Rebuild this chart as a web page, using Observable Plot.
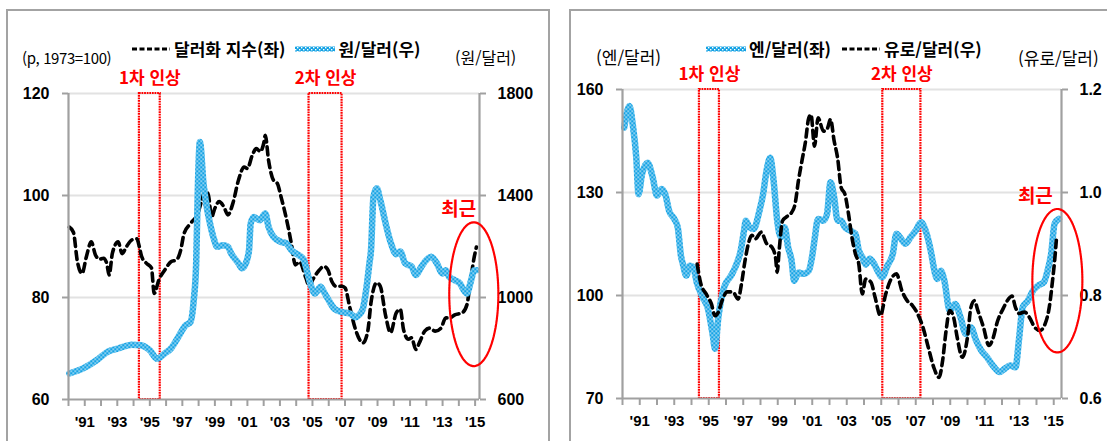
<!DOCTYPE html>
<html lang="ko"><head><meta charset="utf-8">
<script src="https://cdn.jsdelivr.net/npm/d3@7"></script>
<script src="https://cdn.jsdelivr.net/npm/@observablehq/plot@0.6"></script>
<style>
html,body{margin:0;padding:0;background:#fff}
#page{position:relative;width:1107px;height:441px;overflow:hidden;font-family:"Noto Sans CJK KR","Noto Sans",sans-serif;color:#000}
.panel{position:absolute;border:2px solid #a3a3a3;box-sizing:border-box}
.chart{position:absolute;top:0}
.t{position:absolute;white-space:nowrap;line-height:1}
.legend{position:absolute;display:flex;align-items:center;white-space:nowrap;font-weight:700;font-size:17px;line-height:1}
.legend svg{margin-right:3px}
.legend span{margin-right:10px}
</style></head><body>
<div id="page">
  <div class="panel" style="left:6px;top:9px;width:544px;height:480px"></div>
  <div class="panel" style="left:569px;top:9px;width:600px;height:480px"></div>
  <div class="t" style="left:22px;top:50px;font-size:15px;letter-spacing:-0.4px">(p, 1973=100)</div>
  <div class="t" style="left:455px;top:49px;font-size:16px">(원/달러)</div>
  <div class="legend" style="left:131px;top:40px">
    <svg width="40" height="8"><line x1="1" y1="4" x2="39" y2="4" stroke="#000" stroke-width="3" stroke-dasharray="5,2.5"/></svg><span>달러화 지수(좌)</span>
    <svg width="40" height="8"><defs><pattern id="lg1" width="4" height="4" patternUnits="userSpaceOnUse"><rect width="4" height="4" fill="#14a2e4"/><rect width="1.4" height="1.4" fill="#fff"/><rect x="2" y="2" width="1.4" height="1.4" fill="#fff"/></pattern></defs><rect x="0" y="1.5" width="40" height="5" fill="url(#lg1)"/></svg><span>원/달러(우)</span>
  </div>
  <div class="t" style="left:596px;top:48px;font-size:17px">(엔/달러)</div>
  <div class="t" style="left:1018px;top:49px;font-size:17px">(유로/달러)</div>
  <div class="legend" style="left:706px;top:40px">
    <svg width="40" height="8"><defs><pattern id="lg2" width="4" height="4" patternUnits="userSpaceOnUse"><rect width="4" height="4" fill="#14a2e4"/><rect width="1.4" height="1.4" fill="#fff"/><rect x="2" y="2" width="1.4" height="1.4" fill="#fff"/></pattern></defs><rect x="0" y="1.5" width="40" height="5" fill="url(#lg2)"/></svg><span>엔/달러(좌)</span>
    <svg width="40" height="8"><line x1="1" y1="4" x2="39" y2="4" stroke="#000" stroke-width="3" stroke-dasharray="5,2.5"/></svg><span>유로/달러(우)</span>
  </div>
  <div id="left" class="chart" style="left:0px"></div>
  <div id="right" class="chart" style="left:569px"></div>
</div>
<script>
// ---------- data ----------
const dxyYears = [1990.05,1990.3,1990.55,1990.83,1991.1,1991.4,1991.65,1991.9,1992.15,1992.35,1992.5,1992.7,1993.05,1993.3,1993.55,1993.9,1994.2,1994.36,1994.5,1994.8,1995.1,1995.27,1995.55,1995.9,1996.3,1996.65,1996.9,1997.1,1997.5,1997.95,1998.2,1998.4,1998.6,1998.8,1999.0,1999.26,1999.55,1999.8,2000.1,2000.45,2000.8,2001.0,2001.3,2001.55,2001.8,2002.0,2002.1,2002.3,2002.6,2002.85,2003.07,2003.3,2003.5,2003.7,2003.95,2004.2,2004.6,2004.8,2005.0,2005.35,2005.7,2005.95,2006.2,2006.45,2006.8,2007.0,2007.3,2007.65,2008.1,2008.4,2008.6,2008.95,2009.17,2009.5,2009.8,2010.15,2010.4,2010.6,2010.9,2011.1,2011.35,2011.57,2011.9,2012.2,2012.55,2012.9,2013.2,2013.45,2013.75,2014.2,2014.5,2014.7,2014.95,2015.08];
const dxyValues = [93.8,92.8,87,84.7,88,90.9,88.4,87.5,87.7,86.7,84.4,88.7,90.9,88.6,89.9,91.3,91.5,89.9,88,86.7,85.8,80.8,83.4,85.3,87,87.4,89.3,92.5,94.5,96.5,99.1,101,100.1,95.8,97.5,98.8,97.8,96.2,98.4,103,105.6,105.3,107.9,109.2,108.6,110.2,111.8,106.9,103,102.3,99.7,96.8,93.9,90.6,86.4,87,83.8,82.2,83.4,85.1,86.1,85.4,83.1,82.2,82.2,81.9,78,73.7,71.1,73.4,79,82.9,82.2,76.4,73.1,77,77.7,73.7,71.8,72.1,69.8,71.1,73.4,74,73.4,74,76,76,76.6,77,78.6,82.9,88,89.9];

const krwYears = [1990.05,1990.9,1991.75,1992.4,1993.05,1993.9,1994.45,1995.0,1995.45,1995.9,1996.3,1996.75,1997.2,1997.5,1997.7,1997.85,1997.95,1998.08,1998.3,1998.5,1998.7,1998.9,1999.15,1999.5,1999.8,2000.0,2000.45,2000.67,2000.9,2001.1,2001.2,2001.4,2001.75,2002.1,2002.3,2002.6,2003.07,2003.4,2003.7,2004.15,2004.45,2004.7,2004.9,2005.15,2005.5,2005.7,2006.0,2006.35,2006.8,2007.3,2007.65,2007.85,2008.1,2008.3,2008.5,2008.6,2008.75,2008.95,2009.17,2009.5,2009.8,2010.15,2010.4,2010.7,2011.1,2011.35,2011.7,2012.0,2012.3,2012.65,2013.0,2013.2,2013.4,2013.75,2014.07,2014.3,2014.5,2014.73,2014.95,2015.08];
const krwValues = [702,722,755,787,800,815,813,793,760,780,800,845,891,904,989,1133,1421,1610,1447,1355,1290,1238,1199,1205,1199,1173,1134,1115,1134,1186,1290,1316,1303,1329,1277,1238,1218,1212,1186,1166,1150,1094,1048,1016,1042,1022,989,956,943,937,923,930,956,1029,1133,1186,1395,1428,1382,1290,1218,1170,1180,1134,1121,1088,1121,1147,1160,1134,1094,1107,1081,1068,1055,1029,1016,1062,1107,1107];

const jpyYears = [1990.1,1990.4,1990.6,1990.8,1990.93,1991.13,1991.45,1991.75,1992.0,1992.27,1992.5,1992.7,1993.0,1993.2,1993.4,1993.5,1993.7,1993.9,1994.1,1994.3,1994.64,1994.95,1995.25,1995.36,1995.56,1995.9,1996.3,1996.6,1996.85,1997.05,1997.15,1997.35,1997.6,1997.94,1998.15,1998.35,1998.56,1998.76,1998.97,1999.18,1999.4,1999.6,1999.8,1999.95,2000.2,2000.5,2000.8,2001.0,2001.13,2001.34,2001.65,2001.86,2002.06,2002.27,2002.47,2002.68,2002.89,2003.2,2003.5,2003.7,2003.9,2004.1,2004.33,2004.55,2004.74,2005.05,2005.36,2005.67,2005.88,2006.08,2006.4,2006.7,2007.0,2007.3,2007.63,2007.94,2008.04,2008.25,2008.45,2008.66,2008.97,2009.28,2009.6,2009.9,2010.2,2010.5,2010.8,2011.13,2011.55,2011.86,2012.16,2012.47,2012.78,2013.0,2013.2,2013.5,2013.8,2014.1,2014.43,2014.64,2014.85,2015.05,2015.3];
const jpyValues = [148.9,155.2,149.6,140.1,129.5,135.3,138.7,134.4,129.1,131,129.1,124.7,122.3,119.9,111.2,109.2,105.8,108.7,108.3,103.9,99.6,96.2,87.9,84.5,93.8,102.5,105.8,109,113,119,121.8,119.9,119.4,124.7,129.5,136.3,140.1,133.4,121.8,117,119.9,114.1,110.2,104.3,106.7,106.3,107.2,111.6,116.1,122.3,121.8,123.8,133,128.6,121.8,121.8,119.9,118.9,118,113.1,111.2,109,110.7,109.5,107.7,105.3,108.7,112.1,118,117,115.1,117,118.9,121.3,118,111.2,108.3,104.8,107.2,104.3,95.6,97.5,93.6,88.8,90.7,86.9,84,82,79.1,77.7,78.7,79.6,79.1,87.9,96.6,98.5,101.4,102.9,103.9,107.2,112.1,120.9,122.3];

const eurYears = [1994.33,1994.54,1994.85,1995.15,1995.36,1995.56,1995.77,1996.08,1996.4,1996.7,1996.9,1997.1,1997.3,1997.5,1997.7,1998.04,1998.35,1998.66,1998.87,1998.97,1999.08,1999.28,1999.48,1999.8,2000.0,2000.2,2000.4,2000.6,2000.8,2000.93,2001.13,2001.34,2001.65,2001.86,2002.06,2002.27,2002.47,2002.68,2002.89,2003.1,2003.3,2003.5,2003.7,2003.9,2004.1,2004.4,2004.64,2004.95,2005.26,2005.57,2005.88,2006.2,2006.5,2006.8,2007.1,2007.42,2007.73,2008.04,2008.35,2008.56,2008.76,2008.97,2009.2,2009.4,2009.7,2010.0,2010.2,2010.4,2010.6,2010.93,2011.24,2011.44,2011.75,2012.06,2012.37,2012.58,2012.78,2013.0,2013.3,2013.6,2013.9,2014.2,2014.5,2014.74,2014.95,2015.05,2015.15];
const eurValues = [0.861,0.823,0.803,0.784,0.761,0.768,0.790,0.807,0.807,0.793,0.823,0.867,0.901,0.917,0.910,0.923,0.901,0.894,0.874,0.845,0.887,0.945,0.952,0.961,0.977,1.023,1.061,1.097,1.145,1.151,1.090,1.145,1.119,1.123,1.142,1.100,1.067,1.009,0.997,0.959,0.913,0.881,0.861,0.803,0.832,0.826,0.797,0.761,0.803,0.832,0.842,0.809,0.790,0.781,0.765,0.738,0.699,0.661,0.641,0.674,0.732,0.771,0.757,0.719,0.680,0.719,0.777,0.790,0.771,0.738,0.703,0.713,0.751,0.774,0.793,0.799,0.777,0.765,0.768,0.757,0.738,0.732,0.745,0.777,0.835,0.867,0.907];

const hikeLabels = ["1차 인상", "2차 인상"];
const hikeStartLeft = [1994.36, 2004.79];
const hikeEndLeft = [1995.64, 2006.82];
const hikeStartRight = [1994.46, 2005.09];
const hikeEndRight = [1995.62, 2007.3];

const dxyTicks = [60, 80, 100, 120];
const krwTicks = [600, 1000, 1400, 1800];
const jpyTicks = [70, 100, 130, 160];
const eurTicks = [0.6, 0.8, 1.0, 1.2];
const yearTicks = [1990,1991,1992,1993,1994,1995,1996,1997,1998,1999,2000,2001,2002,2003,2004,2005,2006,2007,2008,2009,2010,2011,2012,2013,2014,2015];
const recentLabel = "최근";
// "recent" ellipse annotations: centre (year, left-axis value) and radii
const recentLeft = {cx: 2014.92, cy: 80.65, rx: 1.51, ry: 14.1};
const recentRight = {cx: 2015.21, cy: 104.3, rx: 1.45, ry: 20.9};

// ---------- helpers ----------
const BLUE = "#14a2e4", RED = "#ff0000", GREY = "#a0a0a0", GRID = "#e2e2e2";
const FONT = '"Noto Sans CJK KR", "Noto Sans", sans-serif';
const NUMFONT = '"Liberation Sans", Arial, sans-serif';
const zip = (xs, ys, f = v => v) => xs.map((x, i) => ({x, y: f(ys[i])}));
const hikes = (s, e) => s.map((v, i) => ({start: v, end: e[i], label: hikeLabels[i]}));
const ellipse = e => d3.range(0, 361, 4).map(a => ({x: e.cx + e.rx * Math.cos(a * Math.PI / 180), y: e.cy + e.ry * Math.sin(a * Math.PI / 180)}));
const yearFmt = d => d % 2 ? "'" + String(d).slice(2) : "";

function blueLine(data, pid) {
  return Plot.line(data, {x: "x", y: "y", stroke: `url(#${pid})`, strokeWidth: 6.5, curve: "monotone-x"});
}
function blackLine(data) {
  return Plot.line(data, {x: "x", y: "y", stroke: "#000", strokeWidth: 3.6, strokeDasharray: "8,5", curve: "monotone-x"});
}

function panel({width, margins, xDomain, yTicks, rightFmt, left, right, blueIsLeft, hk, rec, recDx, pid}) {
  const yd = [yTicks[0], yTicks[yTicks.length - 1]];
  const lines = blueIsLeft ? [blueLine(left, pid), blackLine(right)] : [blackLine(left), blueLine(right, pid)];
  const axisText = {fontSize: 16, fontWeight: "bold", fontFamily: NUMFONT, fill: "#000"};
  const svg = Plot.plot({
    width, height: 441,
    marginLeft: margins[0], marginRight: margins[1], marginTop: margins[2], marginBottom: margins[3],
    x: {type: "linear", domain: xDomain},
    y: {domain: yd},
    style: {background: "transparent", overflow: "visible", fontFamily: FONT},
    marks: [
      Plot.ruleY(yTicks.slice(1), {stroke: GRID, strokeWidth: 2}),
      Plot.rect(hk, {x1: "start", x2: "end", y1: () => yd[0], y2: () => yd[1], fill: "none", stroke: RED, strokeWidth: 2.2, strokeDasharray: "1.8,0.8"}),
      Plot.text(hk, {x: d => (d.start + d.end) / 2, y: () => yd[1], text: "label", dy: -15, fill: RED, fontSize: 17, fontWeight: "bold"}),
      ...lines,
      Plot.ruleY([yd[0]], {stroke: GREY, strokeWidth: 2.2}),
      Plot.ruleX(xDomain, {stroke: GREY, strokeWidth: 2.2}),
      Plot.axisY(yTicks, {anchor: "left", tickSize: 6, tickPadding: 13, stroke: GREY, strokeWidth: 2, ...axisText, label: null}),
      Plot.axisY(yTicks, {anchor: "right", tickSize: 6, tickPadding: 12, stroke: GREY, strokeWidth: 2, ...axisText, label: null, tickFormat: rightFmt}),
      Plot.axisX(yearTicks, {anchor: "bottom", tickSize: 7, tickPadding: 10, stroke: GREY, strokeWidth: 2, ...axisText, fontSize: 15, label: null, tickFormat: yearFmt}),
      Plot.line(ellipse(rec), {x: "x", y: "y", stroke: RED, strokeWidth: 2.2, strokeDasharray: "1.8,0.8"}),
      Plot.text([rec], {x: "cx", y: d => d.cy + d.ry, text: () => recentLabel, dx: recDx, dy: -12, fill: RED, fontSize: 19, fontWeight: "bold"})
    ]
  });
  // checkered texture used for the blue series (like the reference's patterned line)
  const ns = "http://www.w3.org/2000/svg";
  const defs = document.createElementNS(ns, "defs");
  defs.innerHTML = `<pattern id="${pid}" width="4" height="4" patternUnits="userSpaceOnUse"><rect width="4" height="4" fill="${BLUE}"/><rect width="1.4" height="1.4" fill="#fff"/><rect x="2" y="2" width="1.4" height="1.4" fill="#fff"/></pattern>`;
  svg.prepend(defs);
  return svg;
}

// left panel: dollar index (left axis) & won/dollar (right axis)
const krwToLeft = d3.scaleLinear().domain([krwTicks[0], krwTicks[3]]).range([dxyTicks[0], dxyTicks[3]]);
document.getElementById("left").append(panel({
  width: 549, margins: [68, 70, 93, 42],
  xDomain: [1990, 2015.27], yTicks: dxyTicks,
  rightFmt: d => String(krwTicks[dxyTicks.indexOf(d)]),
  left: zip(dxyYears, dxyValues), right: zip(krwYears, krwValues, krwToLeft), blueIsLeft: false,
  hk: hikes(hikeStartLeft, hikeEndLeft), rec: recentLeft, recDx: -15, pid: "chkL"
}));

// right panel: yen/dollar (left axis) & euro/dollar (right axis)
const eurToLeft = d3.scaleLinear().domain([eurTicks[0], eurTicks[3]]).range([jpyTicks[0], jpyTicks[3]]);
document.getElementById("right").append(panel({
  width: 538, margins: [53, 46, 89, 43],
  xDomain: [1990, 2015.45], yTicks: jpyTicks,
  rightFmt: d => eurTicks[jpyTicks.indexOf(d)].toFixed(1),
  left: zip(jpyYears, jpyValues), right: zip(eurYears, eurValues, eurToLeft), blueIsLeft: true,
  hk: hikes(hikeStartRight, hikeEndRight), rec: recentRight, recDx: -22, pid: "chkR"
}));
</script>
</body></html>
